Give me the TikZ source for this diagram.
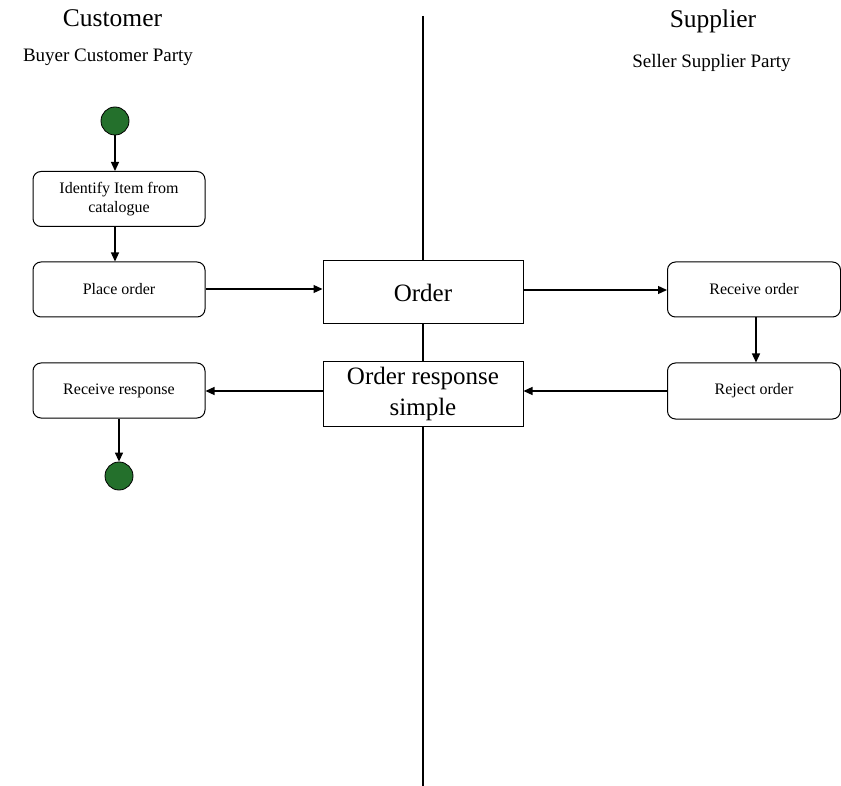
\documentclass[tikz,border=0pt]{standalone}
\usepackage{fontspec}
\setmainfont{Liberation Serif}
\usetikzlibrary{positioning,arrows.meta,calc}
\definecolor{startgreen}{RGB}{36,112,44}
\tikzset{
  activity/.style={draw, rounded corners=8pt, fill=white, minimum width=172pt, minimum height=55pt, align=center, inner sep=0pt, line width=1pt, font=\fontsize{16}{19}\selectfont},
  docbox/.style={draw, fill=white, minimum width=200pt, minimum height=63pt, align=center, inner sep=0pt, line width=1pt, font=\fontsize{25}{31}\selectfont},
  terminal/.style={circle, draw, fill=startgreen, minimum size=28pt, inner sep=0pt, line width=0.8pt},
  lane/.style={anchor=base, inner sep=0pt, font=\fontsize{25.5}{30}\selectfont},
  party/.style={anchor=base, inner sep=0pt, font=\fontsize{19}{23}\selectfont},
  flow/.style={-{Triangle[length=9pt,width=8pt]}, line width=1.3pt}
}

\begin{document}
\begin{tikzpicture}[x=1pt,y=-1pt]
            \useasboundingbox (0,0) rectangle (841,786);
            % swimlane divider
            \coordinate (top) at (423,16);
            \coordinate (bottom) at (423,786);
            \draw[line width=2.4pt] (top) -- (bottom);
            \draw (112.5,27) node[lane] (customer) {Customer};
            \draw (108,62) node[party] (buyer) {Buyer Customer Party};
            \draw (713,28) node[lane] (supplier) {Supplier};
            \draw (711.5,68) node[party] (seller) {Seller Supplier Party};
            % customer side
            \draw (115,121) node[terminal] (start) {};
            \draw (119,199) node[activity] (identify) {Identify Item from\\catalogue};
            \draw (119,289.5) node[activity] (place) {Place order};
            \draw (119,390.5) node[activity] (rresp) {Receive response};
            \draw (119,476) node[terminal] (end) {};
            % documents
            \draw (423,292.5) node[docbox] (order) {Order};
            \draw (423,394) node[docbox, minimum height=64pt] (response) {Order response\\simple};
            % supplier side
            \draw (754,289.5) node[activity, minimum width=173pt] (recv) {Receive order};
            \draw (754,391) node[activity, minimum width=173pt, minimum height=56pt] (reject) {Reject order};
            \path[flow] (start) edge (start |- identify.north)
                      (start |- identify.south) edge (start |- place.north)
                      (place.east |- 0,289) edge (order.west |- 0,289)
                      (order.east |- 0,290) edge (recv.west |- 0,290)
                      (recv.south -| 756,0) edge (reject.north -| 756,0)
                      (reject.west |- 0,391) edge (response.east |- 0,391)
                      (response.west |- 0,391) edge (rresp.east |- 0,391)
                      (rresp) edge (end);
        \end{tikzpicture}
\end{document}
